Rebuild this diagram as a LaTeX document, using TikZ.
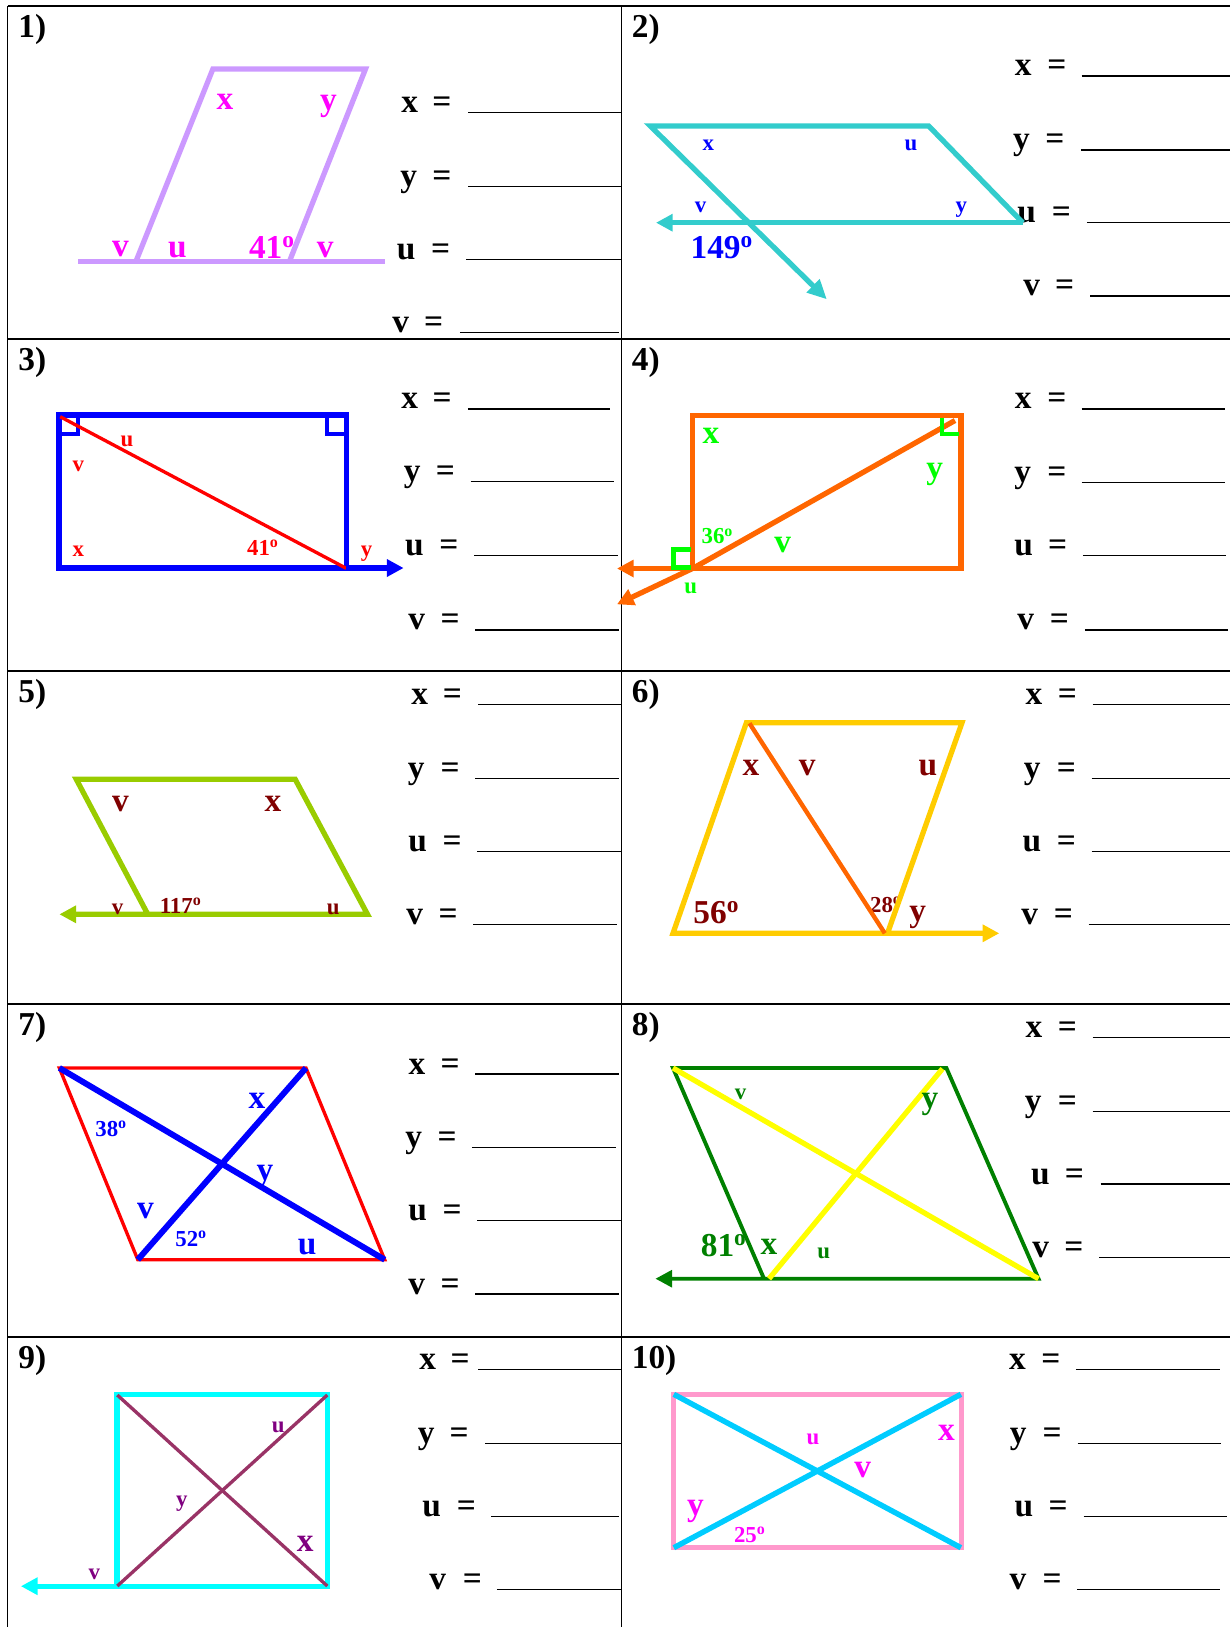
\documentclass[tikz,border=0pt]{standalone}
\usepackage{fontspec}
\setmainfont{Liberation Serif}
\usetikzlibrary{arrows.meta}

\definecolor{lilac}{RGB}{204,153,255}
\definecolor{fuchsia}{RGB}{255,0,255}
\definecolor{aqua}{RGB}{51,204,204}
\definecolor{blu}{RGB}{0,0,255}
\definecolor{rd}{RGB}{255,0,0}
\definecolor{orng}{RGB}{255,102,0}
\definecolor{limeg}{RGB}{0,255,0}
\definecolor{yelgrn}{RGB}{153,204,0}
\definecolor{maroon}{RGB}{128,0,0}
\definecolor{amber}{RGB}{255,204,0}
\definecolor{forest}{RGB}{0,128,0}
\definecolor{lemon}{RGB}{255,255,0}
\definecolor{cyn}{RGB}{0,255,255}
\definecolor{plum}{RGB}{153,51,102}
\definecolor{violetd}{RGB}{128,0,128}
\definecolor{rose}{RGB}{255,153,204}
\definecolor{sky}{RGB}{0,204,255}

\tikzset{
  big/.style={font=\fontsize{19}{22}\selectfont\bfseries,inner sep=0pt,anchor=mid,yshift=-2.3pt},
  bigd/.style={big,anchor=base,yshift=1.4pt},
  small/.style={font=\fontsize{13}{15}\selectfont\bfseries,inner sep=0pt,anchor=mid,yshift=-2.3pt},
  smalld/.style={small,anchor=base,yshift=1.4pt},
  ans/.style={font=\fontsize{19}{22}\selectfont\bfseries,inner sep=0pt,anchor=base,yshift=-1.7pt},
  num/.style={font=\fontsize{19}{22}\selectfont\bfseries,inner sep=0pt,anchor=base west},
  wide/.style={line width=3pt},
  slim/.style={line width=1.9pt},
  rtmark/.style={line width=1.9pt},
  frame/.style={line width=1.1pt},
  blank/.style={line width=0.7pt},
  arrowend/.style={-{Triangle[length=9.5pt,width=9.5pt]}}
}

\begin{document}
\begin{tikzpicture}[x=0.02cm,y=-0.02cm]
  \useasboundingbox (0,0) rectangle (1230,1627);

  % table
  \draw[frame] (7.5,6) -- (7.5,1627);
  \draw[frame] (621.5,6) -- (621.5,1627);
  \foreach \r in {6,339,671,1004,1337}
    \draw[frame] (7.5,\r) -- (1230,\r);

  % numbers
  \node[num] (n1) at (18,37) {1)};
  \node[num] (n2) at (631.5,37) {2)};
  \node[num] (n3) at (18,370) {3)};
  \node[num] (n4) at (631.5,370) {4)};
  \node[num] (n5) at (18,702) {5)};
  \node[num] (n6) at (631.5,702) {6)};
  \node[num] (n7) at (18,1035) {7)};
  \node[num] (n8) at (631.5,1035) {8)};
  \node[num] (n9) at (18,1368) {9)};
  \node[num] (n10) at (631.5,1368) {10)};

  % answer blanks
  \foreach \p/\l/\lx/\ex/\ls/\le/\uy in {
    1/x/409.6/441.8/468/620.5/112.7, 1/y/408.6/441.8/468/620.5/186.7,
    1/u/406.2/440.6/466/620.5/259.3, 1/v/400.6/433.7/459.8/618.5/332.7,
    2/x/1023.2/1056.8/1081.7/1230/76, 2/y/1021.5/1054.8/1080.9/1230/150,
    2/u/1026.7/1061.5/1086.8/1230/222.7, 2/v/1031.7/1064.6/1090.3/1230/296,
    3/x/409.6/442.2/467.9/610.4/409, 3/y/412.2/445.4/470.7/613.7/481.7,
    3/u/414.5/448.8/474/617.7/555.7, 3/v/416.7/450.2/475/618.5/630,
    4/x/1023.2/1056.8/1081.7/1224.8/409, 4/y/1022.8/1056.8/1081.7/1224.8/482.3,
    4/u/1023.6/1057.7/1082.8/1226/555.7, 4/v/1025.8/1059.5/1084.8/1227.5/630,
    5/x/419.7/452.4/478/620.5/704.3, 5/y/416.3/450.2/475/618.5/778.3,
    5/u/417.7/452.2/477/620.5/851.7, 5/v/414.7/448.2/473/616.5/924.3,
    6/x/1033.9/1067.4/1092.6/1230/704.3, 6/y/1032.3/1066.4/1091.5/1230/778.3,
    6/u/1031.9/1066.4/1091.5/1230/851.7, 6/v/1029.7/1063.5/1088.7/1230/924.3,
    7/x/416.9/450.2/475/618.5/1074, 7/y/413.7/447.2/471.9/615.7/1147.3,
    7/u/417.7/452.2/477/620.5/1220.7, 7/v/416.7/450.2/475/618.5/1294,
    8/x/1033.9/1067.4/1092.6/1230/1037.3, 8/y/1033.3/1067.4/1092.6/1230/1111.3,
    8/u/1040.5/1074.4/1100.5/1230/1184, 8/v/1040.6/1073.8/1099.3/1230/1257.3,
    9/x/427.7/460.2/478/620.5/1369.3, 9/y/426.1/459.2/485.1/620.5/1443.3,
    9/u/431.7/466.3/491.2/618.5/1516.7, 9/v/437.8/472.3/496.8/620.5/1589.3,
    10/x/1017.5/1050.9/1075.8/1220/1369.3, 10/y/1018.3/1052.2/1077.7/1220.9/1443.3,
    10/u/1024/1058.2/1083.6/1226.8/1516.7, 10/v/1017.9/1052.2/1077/1220/1589.3}
  {
    \node[ans] (a\p\l) at (\lx,\uy-3) {\l};
    \node[ans] (e\p\l) at (\ex,\uy-3) {=};
    \draw[blank] (\ls,\uy) -- (\le,\uy);
  }

  % 1)
  \draw[wide,lilac] (136.5,260) -- (212.9,69) -- (365.5,69) -- (290,260);
  \draw[wide,lilac] (78.3,261.3) -- (384.7,261.3);
  \node[big,fuchsia] (p1x) at (225,101.7) {x};
  \node[big,fuchsia] (p1y) at (328.5,102.5) {y};
  \node[big,fuchsia] (p1v) at (120.5,248.7) {v};
  \node[big,fuchsia] (p1u) at (177.5,249) {u};
  \node[bigd,fuchsia] (p1a) at (272,256.7) {41\textsuperscript{o}};
  \node[big,fuchsia] (p1w) at (325.3,249) {v};

  % 2)
  \draw[wide,aqua,-{Triangle[length=11pt,width=10pt]}] (1022.8,222.7) -- (928.7,126) -- (650.3,126) -- (826.8,299.3);
  \draw[wide,aqua,arrowend] (1022.8,222.7) -- (656,222.7);
  \node[small,blu] (p2x) at (708.3,142.5) {x};
  \node[small,blu] (p2u) at (911,142.5) {u};
  \node[small,blu] (p2v) at (700.5,204.7) {v};
  \node[small,blu] (p2y) at (961.3,204.7) {y};
  \node[bigd,blu] (p2a) at (721.9,256.7) {149\textsuperscript{o}};

  % 3)
  \draw[wide,blu] (59,415) rectangle (346.4,568);
  \draw[rtmark,blu] (59,434) -- (78,434) -- (78,415);
  \draw[rtmark,blu] (346.4,434) -- (327,434) -- (327,415);
  \draw[slim,rd] (60.2,416.7) -- (346.2,568.3);
  \draw[wide,blu,arrowend] (346.4,568) -- (403.6,568);
  \node[small,rd] (p3u) at (127,438.8) {u};
  \node[small,rd] (p3v) at (78.3,463.7) {v};
  \node[small,rd] (p3x) at (78.3,548.2) {x};
  \node[small,rd] (p3y) at (366.7,548.2) {y};
  \node[smalld,rd] (p3a) at (263,554) {41\textsuperscript{o}};

  % 4)
  \draw[wide,orng] (692.5,415.2) rectangle (961,568.5);
  \draw[wide,orng] (955,420.5) -- (692.5,568.5);
  \draw[wide,orng,arrowend] (692.5,568.5) -- (617,604.3);
  \draw[wide,orng,arrowend] (692.5,568.5) -- (617,568.5);
  \draw[line width=2.3pt,limeg] (942,417.7) -- (942,433.7) -- (959,433.7);
  \draw[line width=2.3pt,limeg] (690.5,549.5) -- (673.5,549.5) -- (673.5,567.5) -- (690.5,567.5);
  \node[big,limeg] (p4x) at (711,435) {x};
  \node[big,limeg] (p4y) at (934.6,470.7) {y};
  \node[big,limeg] (p4v) at (782.8,544.3) {v};
  \node[small,limeg] (p4u) at (690.7,585.5) {u};
  \node[smalld,limeg] (p4a) at (717.5,542.3) {36\textsuperscript{o}};

  % 5)
  \draw[wide,yelgrn,arrowend] (147.8,914.3) -- (76.3,779.3) -- (295.2,779.3) -- (367.5,914.3) -- (59.4,914.3);
  \node[big,maroon] (p5v) at (120.5,803.7) {v};
  \node[big,maroon] (p5x) at (273,803.7) {x};
  \node[small,maroon] (p5w) at (117.7,906) {v};
  \node[small,maroon] (p5u) at (333.3,906) {u};
  \node[smalld,maroon] (p5a) at (180.7,911.7) {117\textsuperscript{o}};

  % 6)
  \node[smalld,maroon] (p6b) at (886,911) {28\textsuperscript{o}};
  \draw[wide,amber,arrowend] (887.5,933.3) -- (962,722.7) -- (746.4,722.7) -- (673,933.3) -- (999.3,933.3);
  \draw[line width=2.5pt,orng] (749.5,723.3) -- (884.8,933.3);
  \node[big,maroon] (p6x) at (751,767) {x};
  \node[big,maroon] (p6v) at (807.2,767) {v};
  \node[big,maroon] (p6u) at (928,767) {u};
  \node[big,maroon] (p6y) at (917.7,913.3) {y};
  \node[bigd,maroon] (p6a) at (716.4,921.7) {56\textsuperscript{o}};

  % 7)
  \draw[slim,rd] (59.4,1068) -- (306,1068) -- (384.7,1259.7) -- (137.8,1259.7) -- cycle;
  \draw[line width=3.4pt,blu] (59.4,1068) -- (384.7,1259.7);
  \draw[line width=3.4pt,blu] (306,1068) -- (137.8,1259.7);
  \node[big,blu] (p7x) at (257,1100.5) {x};
  \node[big,blu] (p7y) at (265,1172.2) {y};
  \node[big,blu] (p7v) at (145.4,1210) {v};
  \node[big,blu] (p7u) at (307.2,1246.7) {u};
  \node[smalld,blu] (p7a) at (111.2,1134.7) {38\textsuperscript{o}};
  \node[smalld,blu] (p7b) at (191.2,1244.7) {52\textsuperscript{o}};

  % 8)
  \draw[line width=2.2pt,forest,arrowend] (764,1278.7) -- (673,1068) -- (946.4,1068) -- (1038.5,1278.7) -- (655.4,1278.7);
  \draw[wide,lemon] (673,1068) -- (1038.5,1278.7);
  \draw[wide,lemon] (942.5,1068.7) -- (769,1278.7);
  \node[small,forest] (p8v) at (740.5,1091.7) {v};
  \node[big,forest] (p8y) at (930,1100.5) {y};
  \node[big,forest] (p8x) at (769,1246.7) {x};
  \node[small,forest] (p8u) at (823.6,1250) {u};
  \node[bigd,forest] (p8a) at (723.8,1254.7) {81\textsuperscript{o}};

  % 9)
  \draw[wide,cyn,arrowend] (117,1586.2) -- (117,1394.2) -- (327.7,1394.2) -- (327.7,1586.2) -- (20.9,1586.2);
  \draw[slim,plum] (117.3,1395) -- (327.3,1586);
  \draw[slim,plum] (327.3,1395) -- (117.3,1586);
  \node[small,violetd] (p9u) at (278.3,1424.7) {u};
  \node[small,violetd] (p9y) at (181.9,1498) {y};
  \node[big,violetd] (p9x) at (305.2,1543.3) {x};
  \node[small,violetd] (p9v) at (94.4,1571.3) {v};

  % 10)
  \draw[wide,rose] (673.4,1394.2) rectangle (961.5,1547.5);
  \draw[line width=3.1pt,sky] (673.8,1394.3) -- (960.9,1547.7);
  \draw[line width=3.1pt,sky] (960.9,1394.3) -- (673.8,1547.7);
  \node[small,fuchsia] (p10u) at (813,1436.3) {u};
  \node[big,fuchsia] (p10x) at (946.4,1432) {x};
  \node[big,fuchsia] (p10v) at (862.8,1469.5) {v};
  \node[big,fuchsia] (p10y) at (695.4,1507.5) {y};
  \node[smalld,fuchsia] (p10a) at (749.9,1540.7) {25\textsuperscript{o}};
\end{tikzpicture}
\end{document}
